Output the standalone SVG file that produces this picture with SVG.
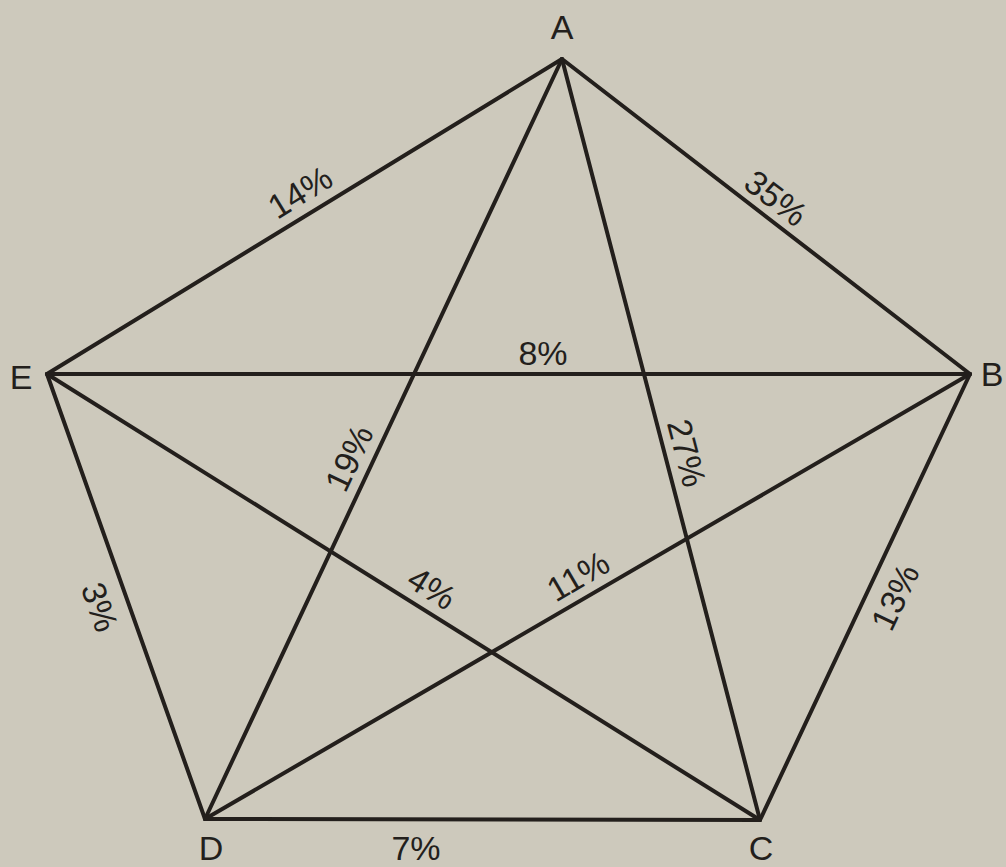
<svg xmlns="http://www.w3.org/2000/svg" width="1006" height="867" viewBox="0 0 1006 867">
<style>
.bg{fill:#cdc9bc}
.edge{stroke:#231f1c;stroke-width:4;stroke-linecap:round;fill:none}
.lbl{font-family:"Liberation Sans",Arial,sans-serif;font-size:34px;fill:#231f1c;text-anchor:middle;dominant-baseline:central}
.node{font-family:"Liberation Sans",Arial,sans-serif;font-size:34px;fill:#231f1c;text-anchor:middle}
</style>
<rect class="bg" x="0" y="0" width="1006" height="867"/>
<g id="connectors">
  <g id="e-EA"><line class="edge" x1="47" y1="374" x2="562" y2="59"/><text class="lbl" transform="translate(300,192) rotate(-31.4)">14%</text></g>
  <g id="e-AB"><line class="edge" x1="562" y1="59" x2="970" y2="374"/><text class="lbl" transform="translate(776,198) rotate(37.6)">35%</text></g>
  <g id="e-EB"><line class="edge" x1="47" y1="374" x2="970" y2="374"/><text class="lbl" x="543" y="353">8%</text></g>
  <g id="e-AD"><line class="edge" x1="562" y1="59" x2="205" y2="819"/><text class="lbl" transform="translate(349,458) rotate(-64.8)">19%</text></g>
  <g id="e-AC"><line class="edge" x1="562" y1="59" x2="760" y2="820"/><text class="lbl" transform="translate(687,453) rotate(75.4)">27%</text></g>
  <g id="e-ED"><line class="edge" x1="47" y1="374" x2="205" y2="819"/><text class="lbl" transform="translate(100,607) rotate(70.5)">3%</text></g>
  <g id="e-EC"><line class="edge" x1="47" y1="374" x2="760" y2="820"/><text class="lbl" transform="translate(432,588) rotate(32.1)">4%</text></g>
  <g id="e-DB"><line class="edge" x1="205" y1="819" x2="970" y2="374"/><text class="lbl" transform="translate(578,576) rotate(-30.2)">11%</text></g>
  <g id="e-CB"><line class="edge" x1="760" y1="820" x2="970" y2="374"/><text class="lbl" transform="translate(895,597) rotate(-64.8)">13%</text></g>
  <g id="e-DC"><line class="edge" x1="205" y1="819" x2="760" y2="820"/><text class="lbl" x="416" y="848">7%</text></g>
</g>
<g id="node-A"><text class="node" x="562" y="39">A</text></g>
<g id="node-B"><text class="node" x="992" y="386">B</text></g>
<g id="node-C"><text class="node" x="761" y="860">C</text></g>
<g id="node-D"><text class="node" x="211" y="860">D</text></g>
<g id="node-E"><text class="node" x="21" y="389">E</text></g>
</svg>
